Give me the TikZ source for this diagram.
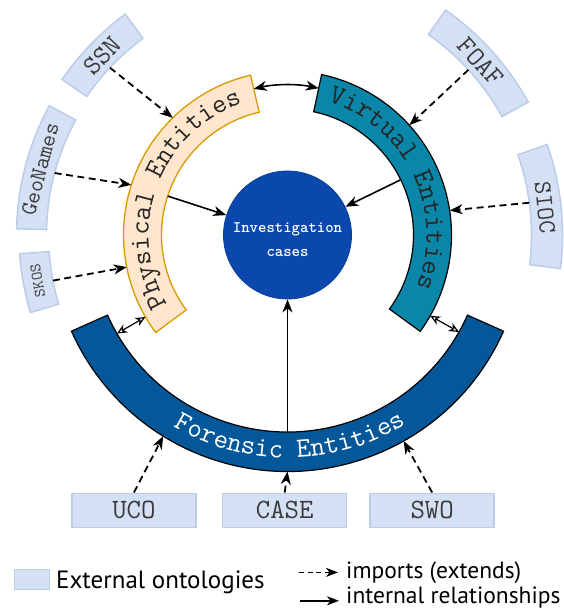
\documentclass[tikz,border=0pt]{standalone}
\usepackage{fontspec}
\newfontfamily\legendfont{PT Sans}
\usetikzlibrary{arrows.meta,decorations.text}
\definecolor{extfill}{HTML}{D4E1F5}
\definecolor{extdraw}{HTML}{BCCDE8}
\definecolor{physfill}{HTML}{FFE6CC}
\definecolor{physdraw}{HTML}{D79B00}
\definecolor{virtfill}{HTML}{0A86A8}
\definecolor{forfill}{HTML}{04589A}
\definecolor{icfill}{HTML}{0B48AD}
\definecolor{icdraw}{HTML}{0A3F98}
\definecolor{exttextcol}{HTML}{3A3A3A}
\newcommand\annsector[5]{\path[#1] (#2:#4pt) arc[start angle=#2,end angle=#3,radius=#4pt] -- (#3:#5pt) arc[start angle=#3,end angle=#2,radius=#5pt] -- cycle;}
\begin{document}
\begin{tikzpicture}[x=1pt,y=1pt,
  extbox/.style={fill=extfill,draw=extdraw,line width=1.5pt},
  exttext/.style={font=\ttfamily\fontsize{27}{27}\selectfont,text=exttextcol,inner sep=0pt},
  bottombox/.style={fill=extfill,draw=extdraw,line width=1.5pt,minimum width=124pt,minimum height=34pt,inner sep=0pt,font=\ttfamily\fontsize{28}{28}\selectfont,text=exttextcol},
  physarc/.style={fill=physfill,draw=physdraw,line width=1.3pt},
  virtarc/.style={fill=virtfill,draw=black,line width=1.2pt},
  forarc/.style={fill=forfill,draw=black,line width=1.2pt},
  imp/.style={line width=1.8pt,dash pattern=on 7pt off 4.5pt,-{Stealth[length=13pt,width=10pt,inset=4pt]}},
  rel/.style={line width=1.6pt,-{Stealth[length=13pt,width=10pt,inset=4pt]}},
  relboth/.style={line width=1.6pt,{Stealth[length=13pt,width=10pt,inset=4pt]}-{Stealth[length=13pt,width=10pt,inset=4pt]}},
  dbl/.style={line width=1.2pt,{Stealth[open,length=10pt,width=9pt,inset=3pt]}-{Stealth[open,length=10pt,width=9pt,inset=3pt]}},
  legtext/.style={font=\legendfont\fontsize{23.5}{23.5}\selectfont,text=black,inner sep=0pt}
]
\useasboundingbox (0,0) rectangle (563,609);
\begin{scope}[shift={(287.5pt,374pt)}]
  % external ontologies (curved)
  \annsector{extbox}{126.3}{145.4}{244}{274}
  \annsector{extbox}{151.5}{178.7}{241}{271}
  \annsector{extbox}{184}{196.8}{239}{268.5}
  \annsector{extbox}{28.9}{54.9}{245}{275}
  \annsector{extbox}{-7}{19.2}{244}{275}
  \node[exttext,rotate=46] (ssn) at (136:258pt) {SSN};
  \node[exttext,font=\ttfamily\fontsize{23}{23}\selectfont,rotate=75.1] (geo) at (165.1:256pt) {GeoNames};
  \node[exttext,font=\ttfamily\fontsize{16}{16}\selectfont,rotate=100.4] (skos) at (190.4:254pt) {SKOS};
  \node[exttext,rotate=-48.1] (foaf) at (41.9:259pt) {FOAF};
  \node[exttext,font=\ttfamily\fontsize{25}{25}\selectfont,rotate=-83.9] (sioc) at (6.1:259pt) {SIOC};
  % main arcs
  \annsector{physarc}{103}{216.5}{126}{164}
  \annsector{virtarc}{78}{-36}{126}{164}
  \annsector{forarc}{204}{336}{197}{236.5}
  % arc labels
  \path[decorate,decoration={text along path,text align=center,
    text={|\ttfamily\fontsize{28}{28}\selectfont\color{black!85}|Physical Entities}}]
    (219.5:139pt) arc[start angle=219.5,end angle=99.5,radius=139pt];
  \path[decorate,decoration={text along path,text align=center,
    text={|\ttfamily\fontsize{28}{28}\selectfont\color{black!85}|Virtual Entities}}]
    (80.6:139pt) arc[start angle=80.6,end angle=-29.4,radius=139pt];
  \path[decorate,decoration={text along path,text align=center,
    text={|\ttfamily\fontsize{28}{28}\selectfont\color{white}|Forensic Entities}}]
    (225.6:223pt) arc[start angle=225.6,end angle=315.6,radius=223pt];
  % centre
  \node[circle,fill=icfill,draw=icdraw,line width=0.8pt,minimum size=128pt,inner sep=0pt] (ic) at (0,0) {};
  \node[font=\ttfamily\bfseries\fontsize{16}{24}\selectfont,text=white,align=center,inner sep=0pt] (ict) at (0,-5) {Investigation\\cases};
  % connector end points
  \coordinate (phys-in) at (162:126pt);
  \coordinate (virt-in) at (26:126pt);
  \coordinate (for-in) at (270:197pt);
  \coordinate (ssn-s) at (136.7:244pt);  \coordinate (ssn-t) at (134.4:164pt);
  \coordinate (geo-s) at (165.1:241pt);  \coordinate (geo-t) at (162.2:164pt);
  \coordinate (skos-s) at (191:239pt);   \coordinate (skos-t) at (191.3:164pt);
  \coordinate (foaf-s) at (42.4:245pt);  \coordinate (foaf-t) at (42:164pt);
  \coordinate (sioc-s) at (7.6:244pt);   \coordinate (sioc-t) at (8.6:164pt);
  \coordinate (uco-t) at (238.3:236.5pt);
  \coordinate (case-t) at (270:236.5pt);
  \coordinate (swo-t) at (299.4:236.5pt);
  \coordinate (pv-a) at (103:150pt);
  \coordinate (pf-a) at (210:197pt);  \coordinate (pf-b) at (210:164pt);
  \coordinate (vf-a) at (-29.5:164pt); \coordinate (vf-b) at (-29.5:197pt);
  % connectors
  \draw[rel] (phys-in) -- (ic);
  \draw[rel] (virt-in) -- (ic);
  \draw[rel] (for-in) -- (ic);
  \draw[imp] (ssn-s) -- (ssn-t);
  \draw[imp] (geo-s) -- (geo-t);
  \draw[imp] (skos-s) -- (skos-t);
  \draw[imp] (foaf-s) -- (foaf-t);
  \draw[imp] (sioc-s) -- (sioc-t);
  \draw[relboth] (pv-a) arc[start angle=103,end angle=78,radius=150pt];
  \draw[dbl] (pf-a) -- (pf-b);
  \draw[dbl] (vf-a) -- (vf-b);
\end{scope}
% bottom external ontologies
\node[bottombox] (uco) at (133.9,98.7) {UCO};
\node[bottombox] (case) at (284.7,98.7) {CASE};
\node[bottombox] (swo) at (432.2,98.7) {SWO};
\draw[imp] (uco.north) -- (uco-t);
\draw[imp] (case.north) -- (case-t);
\draw[imp] (swo.north) -- (swo-t);
% legend
\node[fill=extfill,draw=extdraw,line width=1.2pt,minimum width=35pt,minimum height=20pt,inner sep=0pt] (legbox) at (32,29.5) {};
\node[legtext,font=\legendfont\fontsize{25}{25}\selectfont,anchor=base west] (legext) at (56,20.4) {External ontologies};
\coordinate (legd1) at (299,36.6); \coordinate (legd2) at (338,36.6);
\draw[line width=1.3pt,dash pattern=on 5pt off 3.5pt,-{Stealth[length=12pt,width=9pt,inset=3.5pt]}] (legd1) -- (legd2);
\node[legtext,anchor=base west] (legimp) at (346,30.4) {imports (extends)};
\coordinate (legs1) at (300,8.2); \coordinate (legs2) at (339,8.2);
\draw[line width=1.5pt,-{Stealth[length=12pt,width=9pt,inset=3.5pt]}] (legs1) -- (legs2);
\node[legtext,anchor=base west] (legint) at (346,5.2) {internal relationships};
\end{tikzpicture}
\end{document}
